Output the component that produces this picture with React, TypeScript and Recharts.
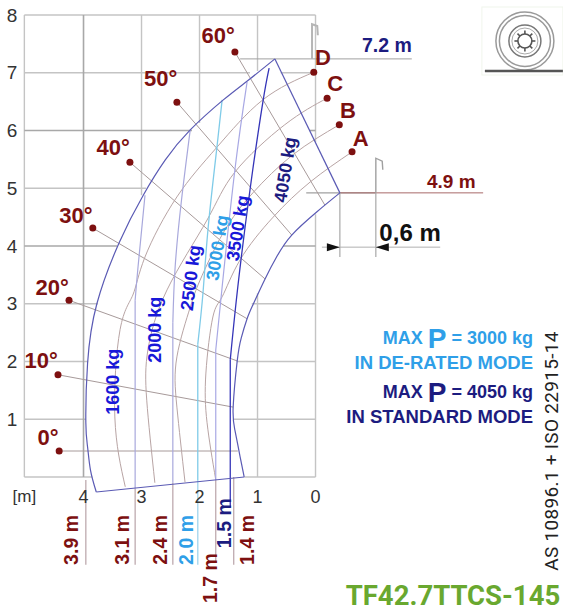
import React from 'react';
import { ComposedChart, Line, XAxis, YAxis, ReferenceDot } from 'recharts';

type P = { x: number; y: number };
const pts = (a: number[][]): P[] => a.map(([x, y]) => ({ x, y }));

const xTicks = [0, 1, 2, 3, 4];
const yTicks = [1, 2, 3, 4, 5, 6, 7, 8];

// grid pieces that lie outside the working envelope, in metres
const gridLight: number[][][] = [
  [[5.02, 8], [0, 8]],
  [[5.02, 7], [1.13, 7]], [[0.6, 7], [0, 7]],
  [[5.02, 5], [2.92, 5]],
  [[5.02, 3], [3.75, 3]], [[1.1, 3], [0, 3]],
  [[5.02, 2], [3.92, 2]], [[1.36, 2], [0, 2]],
  [[5.02, 1], [3.96, 1]], [[1.42, 1], [0, 1]],
  [[5.02, 0], [3.85, 0]], [[1.23, 0], [0, 0]],
  [[5.02, 8], [5.02, 0]],
  [[3, 8], [3, 4.88]],
  [[2, 8], [2, 6.13]],
  [[1, 8], [1, 7.03]], [[1, 3.18], [1, 0]],
  [[0, 8], [0, 5.8]], [[0, 4.55], [0, 0]],
];
const gridDark: number[][][] = [
  [[5.02, 6], [2.13, 6]], [[0.1, 6], [0, 6]],
  [[5.02, 4], [3.42, 4]], [[0.56, 4], [0, 4]],
  [[4, 8], [4, 0]],
];

const envelopeOuter = pts([[3.78, -0.26], [3.88, 0.12], [3.93, 0.52], [3.96, 0.94], [3.93, 1.97], [3.77, 3.0], [3.38, 4.07], [2.97, 4.88], [2.59, 5.49], [2.16, 6.01], [1.59, 6.53], [1.16, 6.87], [0.7, 7.24]]);
const envelopeRight = pts([[0.7, 7.24], [-0.42, 4.92]]);
const envelopeInner = pts([[-0.42, 4.92], [-0.02, 4.59], [0.41, 4.19], [0.66, 3.83], [0.87, 3.43], [1.08, 2.98], [1.18, 2.74], [1.28, 2.41], [1.35, 2.01], [1.42, 1.21], [1.39, 0.81], [1.3, 0.35], [1.23, 0]]);
const envelopeBottom = pts([[1.23, 0], [3.78, -0.26]]);

const load2000 = pts([[2.94, 4.88], [3.06, 3.64], [3.11, 3.06]]);
const stem2000 = pts([[3.11, 3.06], [3.11, -0.2]]);
const load2500 = pts([[2.16, 6.01], [2.31, 4.8], [2.42, 3.64], [2.46, 2.67]]);
const stem2500 = pts([[2.46, 2.67], [2.46, -0.1]]);
const load3000 = pts([[1.61, 6.53], [1.7, 5.71], [1.85, 4.33], [1.94, 3.19], [2.03, 2.3]]);
const stem3000 = pts([[2.03, 2.3], [2.03, -0.05]]);
const load3500 = pts([[1.18, 6.84], [1.39, 5.32], [1.61, 3.29], [1.72, 2.2]]);
const stem3500 = pts([[1.72, 2.2], [1.72, -0.05]]);
const load4050 = pts([[0.8, 7.08], [0.91, 6.48], [1.13, 4.97], [1.34, 3.29], [1.47, 2.03]]);
const stem4050 = pts([[1.47, 2.03], [1.47, -0.52]]);

const drop39 = pts([[3.96, -0.05], [3.96, -1.52]]);
const drop31 = pts([[3.11, -0.2], [3.11, -1.52]]);
const drop24 = pts([[2.46, -0.1], [2.46, -1.52]]);
const drop20 = pts([[2.03, -0.05], [2.03, -1.52]]);
const drop17 = pts([[1.72, -0.05], [1.72, -1.49]]);
const drop14 = pts([[1.41, 0], [1.41, -1.52]]);

const arcD = pts([[0.03, 7.01], [0.91, 6.53], [1.7, 5.71], [2.39, 4.85], [2.94, 3.81], [3.15, 3.15], [3.37, 2.55], [3.46, 1.04], [3.28, -0.17]]);
const arcC = pts([[-0.2, 6.56], [0.53, 6.1], [1.39, 5.28], [1.87, 4.45], [2.56, 3.24], [2.89, 2.2], [2.91, 1.33], [2.77, -0.1]]);
const arcB = pts([[-0.41, 6.1], [0.39, 5.58], [1.08, 4.92], [1.59, 4.23], [1.99, 3.41], [2.16, 2.94], [2.39, 2.08], [2.39, 1.21], [2.25, -0.09]]);
const arcA = pts([[-0.63, 5.63], [0.09, 5.11], [0.73, 4.5], [1.3, 3.76], [1.61, 3.12], [1.77, 2.77], [1.89, 1.8], [1.87, 0.94], [1.72, -0.05]]);

const angleRays: number[][][] = [
  [[1.39, 7.36], [-0.16, 4.71]],
  [[2.39, 6.49], [0.41, 4.19]],
  [[3.2, 5.45], [0.87, 3.43]],
  [[3.84, 4.31], [1.18, 2.74]],
  [[4.25, 3.06], [1.35, 2.01]],
  [[4.44, 1.77], [1.42, 1.21]],
  [[4.42, 0.45], [1.34, 0.45]],
];
const dotPoints = pts([[1.39, 7.36], [2.39, 6.49], [3.2, 5.45], [3.84, 4.31], [4.25, 3.06], [4.44, 1.77], [4.42, 0.45], [0.03, 7.01], [-0.2, 6.56], [-0.41, 6.1], [-0.63, 5.63]]);

const ext72 = pts([[1.3, 7.24], [-1.66, 7.24]]);
const ext49Gray = pts([[0.16, 4.92], [-1.04, 4.92]]);
const ext49Red = pts([[-0.42, 4.92], [-2.89, 4.92]]);
const dimLeft = pts([[-0.42, 4.92], [-0.42, 3.81]]);
const dimRight = pts([[-1.04, 4.92], [-1.04, 3.81]]);
const dimLine = pts([[-0.11, 3.98], [-2.15, 3.98]]);
const hook72 = pts([[0.06, 7.24], [0.06, 7.84], [-0.03, 7.81], [-0.04, 7.65]]);
const hook49 = pts([[-1.04, 4.92], [-1.04, 5.52], [-1.15, 5.47], [-1.16, 5.32]]);

const RED = '#7d1010';
const LIGHT = '#2f9fe8';
const NAVY = '#1c1c80';
const BLUE = '#1818d8';
const ARIAL = '"Liberation Sans", Arial, sans-serif';

type Lab = { t: string; x: number; y: number; c: string; s: number; a?: number };
const angleLabels: Lab[] = [
  { t: '60°', x: 1.68, y: 7.65, c: RED, s: 22 },
  { t: '50°', x: 2.67, y: 6.9, c: RED, s: 22 },
  { t: '40°', x: 3.49, y: 5.7, c: RED, s: 22 },
  { t: '30°', x: 4.13, y: 4.52, c: RED, s: 22 },
  { t: '20°', x: 4.54, y: 3.29, c: RED, s: 22 },
  { t: '10°', x: 4.73, y: 2.01, c: RED, s: 22 },
  { t: '0°', x: 4.61, y: 0.69, c: RED, s: 22 },
  { t: 'D', x: -0.13, y: 7.27, c: RED, s: 22 },
  { t: 'C', x: -0.34, y: 6.82, c: RED, s: 22 },
  { t: 'B', x: -0.56, y: 6.35, c: RED, s: 22 },
  { t: 'A', x: -0.78, y: 5.87, c: RED, s: 22 },
  { t: '[m]', x: 5.02, y: -0.34, c: '#333333', s: 17 },
  { t: '7.2 m', x: -1.23, y: 7.48, c: NAVY, s: 19.5 },
  { t: '4.9 m', x: -2.34, y: 5.12, c: RED, s: 19 },
  { t: '0,6 m', x: -1.63, y: 4.24, c: '#111111', s: 24 },
];
const rotatedLabels: Lab[] = [
  { t: '3.9 m', x: 4.22, y: -1.09, c: RED, s: 19.5, a: -90 },
  { t: '3.1 m', x: 3.34, y: -1.09, c: RED, s: 19.5, a: -90 },
  { t: '2.4 m', x: 2.68, y: -1.09, c: RED, s: 19.5, a: -90 },
  { t: '2.0 m', x: 2.23, y: -1.09, c: LIGHT, s: 19.5, a: -90 },
  { t: '1.7 m', x: 1.82, y: -1.75, c: RED, s: 19.5, a: -90 },
  { t: '1.5 m', x: 1.58, y: -0.8, c: NAVY, s: 19.5, a: -90 },
  { t: '1.4 m', x: 1.18, y: -1.09, c: RED, s: 19.5, a: -90 },
  { t: '1600 kg', x: 3.49, y: 1.65, c: BLUE, s: 18, a: -90 },
  { t: '2000 kg', x: 2.77, y: 2.55, c: BLUE, s: 18, a: -90 },
  { t: '2500 kg', x: 2.15, y: 3.45, c: BLUE, s: 18, a: -83 },
  { t: '3000 kg', x: 1.69, y: 3.97, c: LIGHT, s: 18, a: -81 },
  { t: '3500 kg', x: 1.34, y: 4.31, c: BLUE, s: 18, a: -81 },
  { t: '4050 kg', x: 0.52, y: 5.32, c: NAVY, s: 18, a: -81 },
];

const noteLines = [
  { x: -3.75, y: 2.4, c: LIGHT, parts: [['MAX ', 18], ['P', 28], [' = 3000 kg', 18]] },
  { x: -3.75, y: 1.99, c: LIGHT, parts: [['IN DE-RATED MODE', 18.5]] },
  { x: -3.75, y: 1.48, c: NAVY, parts: [['MAX ', 18], ['P', 28], [' = 4050 kg', 18]] },
  { x: -3.75, y: 1.05, c: NAVY, parts: [['IN STANDARD MODE', 18.5]] },
];

const textShape = (l: Lab) => (p: any) => (
  <text
    x={p.cx}
    y={p.cy}
    fill={l.c}
    fontSize={l.s}
    fontFamily={ARIAL}
    fontWeight={l.c === '#333333' ? 400 : 700}
    textAnchor="middle"
    dominantBaseline="central"
    transform={l.a ? `rotate(${l.a} ${p.cx} ${p.cy})` : undefined}
  >
    {l.t}
  </text>
);

const Wheel = (p: any) => {
  const { cx, cy } = p;
  const spokes = [0, 45, 90, 135, 180, 225, 270, 315];
  return (
    <g fill="none">
      <rect x={cx - 43} y={cy - 34} width={81} height={68} fill="#ffffff" stroke="#f0f5ec" />
      <circle cx={cx} cy={cy} r={29} stroke="#9a9a9a" strokeWidth={1.5} />
      <circle cx={cx} cy={cy} r={25.5} stroke="#9a9a9a" strokeWidth={1.5} />
      <circle cx={cx} cy={cy} r={16} stroke="#777777" strokeWidth={1.5} />
      <circle cx={cx} cy={cy} r={13} stroke="#aaaaaa" strokeWidth={1} />
      <circle cx={cx} cy={cy} r={7} stroke="#555555" strokeWidth={1.6} />
      {spokes.map((a) => (
        <line key={a} x1={cx} y1={cy - 7} x2={cx} y2={cy - 10.5} stroke="#555555" strokeWidth={1.6} transform={`rotate(${a} ${cx} ${cy})`} />
      ))}
      <line x1={cx - 40} y1={cy + 30} x2={cx + 38} y2={cy + 30} stroke="#555555" strokeWidth={2.5} />
    </g>
  );
};

const ArrowRight = (p: any) => <polygon points={`${p.cx - 13},${p.cy - 4} ${p.cx},${p.cy} ${p.cx - 13},${p.cy + 4}`} fill="#111111" />;
const ArrowLeft = (p: any) => <polygon points={`${p.cx + 13},${p.cy - 4} ${p.cx},${p.cy} ${p.cx + 13},${p.cy + 4}`} fill="#111111" />;

const line = (key: string, data: P[], stroke: string, width = 1, curve = false) => (
  <Line
    key={key}
    data={data}
    dataKey="y"
    type={curve ? 'natural' : 'linear'}
    stroke={stroke}
    strokeWidth={width}
    dot={false}
    activeDot={false}
    legendType="none"
    isAnimationActive={false}
  />
);

export default function App() {
  return (
    <div style={{ position: 'absolute', left: 0, top: 0, width: 563, height: 612, background: '#fff', overflow: 'hidden' }}>
      <ComposedChart width={563} height={612} margin={{ top: 0, right: 0, bottom: 0, left: 0 }}>
        <XAxis
          dataKey="x"
          type="number"
          domain={[-4.267, 5.44]}
          reversed
          ticks={xTicks}
          interval={0}
          height={1}
          mirror
          axisLine={false}
          tickLine={false}
          tick={(p: any) => (
            <text x={p.x} y={497} fontSize={18} fill="#333333" fontFamily={ARIAL} textAnchor="middle" dominantBaseline="central">
              {p.payload.value}
            </text>
          )}
        />
        <YAxis
          type="number"
          domain={[-2.338, 8.26]}
          ticks={yTicks}
          interval={0}
          width={1}
          mirror
          axisLine={false}
          tickLine={false}
          tick={(p: any) => (
            <text x={12} y={p.y} fontSize={19} fill="#333333" fontFamily={ARIAL} textAnchor="middle" dominantBaseline="central">
              {p.payload.value}
            </text>
          )}
        />
        {gridLight.map((s, i) => line(`g${i}`, pts(s), '#c4c4c4', 1.4))}
        {gridDark.map((s, i) => line(`d${i}`, pts(s), '#a8a8a8', 1.6))}
        {line('ext72', ext72, '#a0a0a0', 1)}
        {line('ext49g', ext49Gray, '#a0a0a0', 1.2)}
        {line('ext49r', ext49Red, '#a86a6a', 1)}
        {line('dimL', dimLeft, '#a8a8a8', 1.2)}
        {line('dimR', dimRight, '#a8a8a8', 1.2)}
        {line('dimLine', dimLine, '#b0b0b0', 1)}
        {line('hook72', hook72, '#b5b5b5', 2)}
        {line('hook49', hook49, '#a0a0a0', 1.4)}
        {angleRays.map((s, i) => line(`r${i}`, pts(s), '#a79a9a', 1))}
        {line('arcD', arcD, '#b8a4a4', 1, true)}
        {line('arcC', arcC, '#b8a4a4', 1, true)}
        {line('arcB', arcB, '#b8a4a4', 1, true)}
        {line('arcA', arcA, '#b8a4a4', 1, true)}
        {line('d39', drop39, '#b9a3a8', 1.2)}
        {line('d31', drop31, '#b9a3a8', 1.2)}
        {line('d24', drop24, '#b9a3a8', 1.2)}
        {line('d20', drop20, '#a8d8ee', 1.4)}
        {line('d17', drop17, '#b9a3a8', 1.2)}
        {line('d14', drop14, '#b9a3a8', 1.2)}
        {line('l2000', load2000, '#a8a8dc', 1.2, true)}
        {line('s2000', stem2000, '#a8a8dc', 1.2)}
        {line('l2500', load2500, '#a8a8dc', 1.2, true)}
        {line('s2500', stem2500, '#a8a8dc', 1.2)}
        {line('l3000', load3000, '#7fcbe8', 1.3, true)}
        {line('s3000', stem3000, '#7fcbe8', 1.3)}
        {line('l3500', load3500, '#a8a8e4', 1.2, true)}
        {line('s3500', stem3500, '#a8a8e4', 1.2)}
        {line('l4050', load4050, '#3434b8', 1.3, true)}
        {line('s4050', stem4050, '#3434b8', 1.3)}
        {line('envO', envelopeOuter, '#5a5ab4', 1.2, true)}
        {line('envR', envelopeRight, '#5a5ab4', 1.2)}
        {line('envI', envelopeInner, '#5a5ab4', 1.2, true)}
        {line('envB', envelopeBottom, '#5a5ab4', 1.2)}
        <Line
          data={dotPoints}
          dataKey="y"
          stroke="none"
          dot={{ r: 3.5, fill: RED, stroke: RED, strokeWidth: 0 }}
          activeDot={false}
          legendType="none"
          isAnimationActive={false}
        />
        {[...angleLabels, ...rotatedLabels].map((l, i) => (
          <ReferenceDot key={`l${i}`} x={l.x} y={l.y} r={0} shape={textShape(l)} />
        ))}
        <ReferenceDot x={-0.42} y={3.98} r={0} shape={ArrowRight} />
        <ReferenceDot x={-1.04} y={3.98} r={0} shape={ArrowLeft} />
        <ReferenceDot x={-3.61} y={7.55} r={0} shape={Wheel} />
        {noteLines.map((n, i) => (
          <ReferenceDot
            key={`n${i}`}
            x={n.x}
            y={n.y}
            r={0}
            shape={(p: any) => (
              <text x={p.cx} y={p.cy} textAnchor="end" dominantBaseline="central" fontFamily={ARIAL} fontWeight={700} fill={n.c}>
                {n.parts.map((part, j) => (
                  <tspan key={j} fontSize={part[1] as number}>
                    {part[0]}
                  </tspan>
                ))}
              </text>
            )}
          />
        ))}
        <ReferenceDot
          x={-4.07}
          y={0.45}
          r={0}
          shape={(p: any) => (
            <text x={p.cx} y={p.cy} textAnchor="middle" dominantBaseline="central" fontFamily="Roboto, sans-serif" fontSize={19} letterSpacing={0.3} fill="#222222" transform={`rotate(-90 ${p.cx} ${p.cy})`}>
              AS 10896.1 + ISO 22915-14
            </text>
          )}
        />
        <ReferenceDot
          x={-2.37}
          y={-2.06}
          r={0}
          shape={(p: any) => (
            <text x={p.cx} y={p.cy} textAnchor="middle" dominantBaseline="central" fontFamily="Roboto, sans-serif" fontWeight={700} fontSize={27.5} fill="#69a82f">
              TF42.7TTCS-145
            </text>
          )}
        />
      </ComposedChart>
    </div>
  );
}
